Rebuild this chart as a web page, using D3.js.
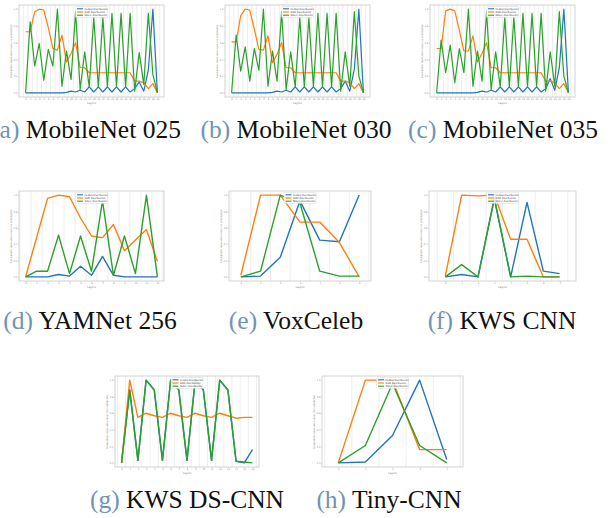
<!DOCTYPE html>
<html>
<head>
<meta charset="utf-8">
<script src="https://cdn.jsdelivr.net/npm/d3@7"></script>
<style>
  body { margin: 0; background: #fff; }
  svg { display: block; }
</style>
</head>
<body>
<div id="chart"></div>
<script>
// normalized per-layer distributions
// (a) MobileNet 025
let flashA = [0, 0, 0, 0, 0, 0, 0, 0, 0, 0.005, 0.02, 0.01, 0.03, 0.01, 0.07, 0.01, 0.07, 0.01, 0.07, 0.01, 0.07, 0.01, 0.07, 0.01, 0.05, 0.13, 0.02, 0.27, 1.0, 0];
let ramA = [0.73, 0.73, 0.97, 1.0, 0.99, 0.78, 0.53, 0.51, 0.69, 0.37, 0.47, 0.6, 0.3, 0.3, 0.24, 0.24, 0.24, 0.24, 0.24, 0.24, 0.24, 0.24, 0.24, 0.24, 0.14, 0.14, 0.12, 0.05, 0.11, 0];
let maccA = [0, 0.85, 0.32, 0.59, 0.15, 0.52, 0.32, 1.0, 0.08, 0.5, 0.16, 0.97, 0.04, 0.49, 0.07, 0.9, 0.07, 0.9, 0.07, 0.95, 0.07, 0.95, 0.07, 0.95, 0.02, 0.48, 0.1, 0.95, 0.22, 0];
// (b) MobileNet 030
let flashB = [0, 0, 0, 0, 0, 0, 0, 0, 0, 0.005, 0.02, 0.01, 0.03, 0.01, 0.07, 0.01, 0.07, 0.01, 0.07, 0.01, 0.07, 0.01, 0.07, 0.01, 0.05, 0.14, 0.02, 0.28, 1.0, 0];
let ramB = [0.61, 0.61, 0.92, 1.0, 0.99, 0.76, 0.52, 0.51, 0.68, 0.36, 0.46, 0.6, 0.3, 0.3, 0.24, 0.24, 0.24, 0.24, 0.24, 0.24, 0.24, 0.24, 0.24, 0.24, 0.14, 0.14, 0.12, 0.05, 0.11, 0];
let maccB = [0, 0.69, 0.26, 0.55, 0.14, 0.53, 0.27, 1.0, 0.08, 0.5, 0.14, 0.97, 0.04, 0.49, 0.07, 0.9, 0.07, 0.9, 0.07, 0.95, 0.07, 0.95, 0.07, 0.95, 0.02, 0.49, 0.08, 0.97, 0.2, 0];
// (c) MobileNet 035
let flashC = [0, 0, 0, 0, 0, 0, 0, 0, 0, 0.005, 0.02, 0.01, 0.03, 0.01, 0.07, 0.01, 0.07, 0.01, 0.07, 0.01, 0.07, 0.01, 0.07, 0.01, 0.05, 0.17, 0.03, 0.3, 1.0, 0];
let ramC = [0.53, 0.53, 0.98, 1.0, 0.98, 0.75, 0.5, 0.5, 0.68, 0.37, 0.47, 0.6, 0.3, 0.3, 0.24, 0.24, 0.24, 0.24, 0.24, 0.24, 0.24, 0.24, 0.24, 0.24, 0.14, 0.14, 0.12, 0.05, 0.11, 0];
let maccC = [0, 0.63, 0.24, 0.57, 0.12, 0.53, 0.24, 1.0, 0.08, 0.5, 0.14, 0.97, 0.04, 0.49, 0.07, 0.9, 0.07, 0.9, 0.07, 0.95, 0.07, 0.95, 0.07, 0.95, 0.02, 0.49, 0.08, 0.97, 0.2, 0];
// (d) YAMNet 256
let flashD = [0, 0, 0, 0.03, 0.01, 0.13, 0.02, 0.25, 0.02, 0, 0, 0, 0];
let ramD = [0, 0.48, 0.96, 1.0, 0.98, 0.72, 0.5, 0.48, 0.64, 0.32, 0.45, 0.58, 0.19];
let maccD = [0, 0.07, 0.07, 0.51, 0.04, 0.5, 0.07, 0.93, 0.02, 0.5, 0.04, 1.0, 0];
// (e) VoxCeleb
let flashE = [0, 0.01, 0.24, 0.93, 0.45, 0.43, 1.0];
let ramE = [0.02, 1.0, 1.0, 0.67, 0.67, 0.42, 0];
let maccE = [0, 0.07, 1.0, 0.9, 0.07, 0.01, 0.01];
// (f) KWS CNN
let flashF = [0, 0.03, 0, 0.95, 0, 0.91, 0.07, 0.04];
let ramF = [0.01, 1.0, 0.99, 1.0, 0.46, 0.46, 0, 0];
let maccF = [0, 0.15, 0, 0.97, 0, 0.01, 0, 0];
// (g) KWS DS-CNN
let flashG = [0, 0.88, 0.03, 1.0, 0.88, 0.03, 1.0, 0.88, 0.03, 1.0, 0.88, 0.03, 1.0, 0.88, 0.02, 0, 0.16];
let ramG = [0, 1.0, 0.55, 0.6, 0.57, 0.55, 0.6, 0.57, 0.55, 0.6, 0.57, 0.55, 0.6, 0.57, 0.54, 0.55, 0.55];
let maccG = [0, 0.88, 0.03, 1.0, 0.88, 0.03, 1.0, 0.88, 0.03, 1.0, 0.88, 0.03, 1.0, 0.88, 0.02, 0.01, 0];
// (h) Tiny-CNN
let flashH = [0, 0.01, 0.33, 1.0, 0.04];
let ramH = [0, 1.0, 1.0, 0.16, 0.16];
let maccH = [0, 0.21, 0.96, 0.21, 0];

let seriesNames = ["FLASH distribution", "RAM distribution", "MACC distribution"];
let colors = ["#1f77b4", "#ff7f0e", "#2ca02c"];
let yTicks = [0, 0.2, 0.4, 0.6, 0.8, 1.0];
let captionLetters = ["(a)", "(b)", "(c)", "(d)", "(e)", "(f)", "(g)", "(h)"];
let captionNames = ["MobileNet 025", "MobileNet 030", "MobileNet 035", "YAMNet 256", "VoxCeleb", "KWS CNN", "KWS DS-CNN", "Tiny-CNN"];

// layout of each small plot (axes box, x padding in layers, line width, caption anchor)
let panels = [
  { series: [flashA, ramA, maccA], x: 19, y: 5, w: 145, h: 92, pad: 1.45, lw: 1.2, cx: 86, cy: 138 },
  { series: [flashB, ramB, maccB], x: 225, y: 5, w: 145, h: 92, pad: 1.45, lw: 1.2, cx: 296, cy: 138 },
  { series: [flashC, ramC, maccC], x: 430, y: 5, w: 145, h: 92, pad: 1.45, lw: 1.2, cx: 503, cy: 138 },
  { series: [flashD, ramD, maccD], x: 19, y: 191, w: 145, h: 90, pad: 0.6, lw: 1.4, cx: 90, cy: 329 },
  { series: [flashE, ramE, maccE], x: 229, y: 191, w: 142, h: 90, pad: 0.6, lw: 1.4, cx: 296, cy: 329 },
  { series: [flashF, ramF, maccF], x: 429, y: 191, w: 147, h: 90, pad: 1.0, lw: 1.4, cx: 502, cy: 329 },
  { series: [flashG, ramG, maccG], x: 115, y: 376, w: 144, h: 91, pad: 0.8, lw: 1.4, cx: 187, cy: 508 },
  { series: [flashH, ramH, maccH], x: 322, y: 376, w: 141, h: 91, pad: 0.6, lw: 1.4, cx: 389, cy: 508 }
];

let svg = d3.select("#chart").append("svg")
  .attr("width", 611)
  .attr("height", 518);

panels.forEach(function(p, k) {
  let n = p.series[0].length;
  let x = d3.scaleLinear().domain([-p.pad, n - 1 + p.pad]).range([p.x, p.x + p.w]);
  let y = d3.scaleLinear().domain([-0.05, 1.05]).range([p.y + p.h, p.y]);

  let g = svg.append("g");

  // vertical lines between layers
  let grid = d3.range(-1, n).map(function(i) { return i + 0.5; })
    .filter(function(v) { return x(v) > p.x + 0.5 && x(v) < p.x + p.w - 0.5; });
  g.selectAll(".grid")
    .data(grid)
    .enter().append("line")
    .attr("x1", function(d) { return x(d); })
    .attr("x2", function(d) { return x(d); })
    .attr("y1", p.y)
    .attr("y2", p.y + p.h)
    .attr("stroke", "#e2e2e2")
    .attr("stroke-width", 0.6);

  // axes
  let xAxis = g.append("g")
    .attr("transform", "translate(0," + (p.y + p.h) + ")")
    .call(d3.axisBottom(x).tickValues(d3.range(n)).tickSize(1).tickPadding(0.6).tickFormat(d3.format("d")));
  let yAxis = g.append("g")
    .attr("transform", "translate(" + p.x + ",0)")
    .call(d3.axisLeft(y).tickValues(yTicks).tickSize(1).tickPadding(0.6).tickFormat(d3.format(".1f")));
  [xAxis, yAxis].forEach(function(a) {
    a.attr("font-size", 2.3).attr("font-family", "DejaVu Sans");
    a.select(".domain").remove();
    a.selectAll(".tick line").attr("stroke", "#aaa").attr("stroke-width", 0.4);
    a.selectAll(".tick text").attr("fill", "#888");
  });

  g.append("text")
    .attr("x", p.x + p.w / 2)
    .attr("y", p.y + p.h + 6.5)
    .attr("text-anchor", "middle")
    .attr("font-family", "DejaVu Sans")
    .attr("font-size", 2.6)
    .attr("fill", "#777")
    .text("Layers");

  g.append("text")
    .attr("transform", "translate(" + (p.x - 7.5) + "," + (p.y + p.h / 2) + ") rotate(-90)")
    .attr("text-anchor", "middle")
    .attr("font-family", "DejaVu Sans")
    .attr("font-size", 2.5)
    .attr("fill", "#777")
    .text("Normalized layer-wise resource distribution");

  // frame
  g.append("rect")
    .attr("x", p.x)
    .attr("y", p.y)
    .attr("width", p.w)
    .attr("height", p.h)
    .attr("fill", "none")
    .attr("stroke", "#c8c8c8")
    .attr("stroke-width", 0.8);

  let line = d3.line()
    .x(function(d, i) { return x(i); })
    .y(function(d) { return y(d); });

  g.selectAll(".series")
    .data(p.series)
    .enter().append("path")
    .attr("d", line)
    .attr("fill", "none")
    .attr("stroke", function(d, i) { return colors[i]; })
    .attr("stroke-width", p.lw)
    .attr("stroke-linejoin", "round");

  // legend, upper center
  let lw = 32, lh = 11;
  let lx = p.x + p.w / 2 - lw / 2, ly = p.y + 1.5;
  let legend = g.append("g");
  legend.append("rect")
    .attr("x", lx)
    .attr("y", ly)
    .attr("width", lw)
    .attr("height", lh)
    .attr("rx", 0.8)
    .attr("fill", "#fff")
    .attr("fill-opacity", 0.85)
    .attr("stroke", "#d0d0d0")
    .attr("stroke-width", 0.4);
  let items = legend.selectAll(".item")
    .data(seriesNames)
    .enter().append("g")
    .attr("transform", function(d, i) { return "translate(" + (lx + 1.5) + "," + (ly + 2.3 + i * 3.2) + ")"; });
  items.append("line")
    .attr("x1", 0)
    .attr("x2", 6)
    .attr("stroke", function(d, i) { return colors[i]; })
    .attr("stroke-width", 1.1);
  items.append("text")
    .attr("x", 7.5)
    .attr("dy", "0.35em")
    .attr("font-family", "DejaVu Sans")
    .attr("font-size", 2.5)
    .attr("fill", "#444")
    .text(function(d) { return d; });

  // caption
  let cap = svg.append("text")
    .attr("x", p.cx)
    .attr("y", p.cy)
    .attr("text-anchor", "middle")
    .attr("font-family", "Liberation Serif")
    .attr("font-size", 25.5);
  cap.append("tspan").attr("fill", "#7094b8").text(captionLetters[k]);
  cap.append("tspan").attr("fill", "#111").text(" " + captionNames[k]);
});
</script>
</body>
</html>
